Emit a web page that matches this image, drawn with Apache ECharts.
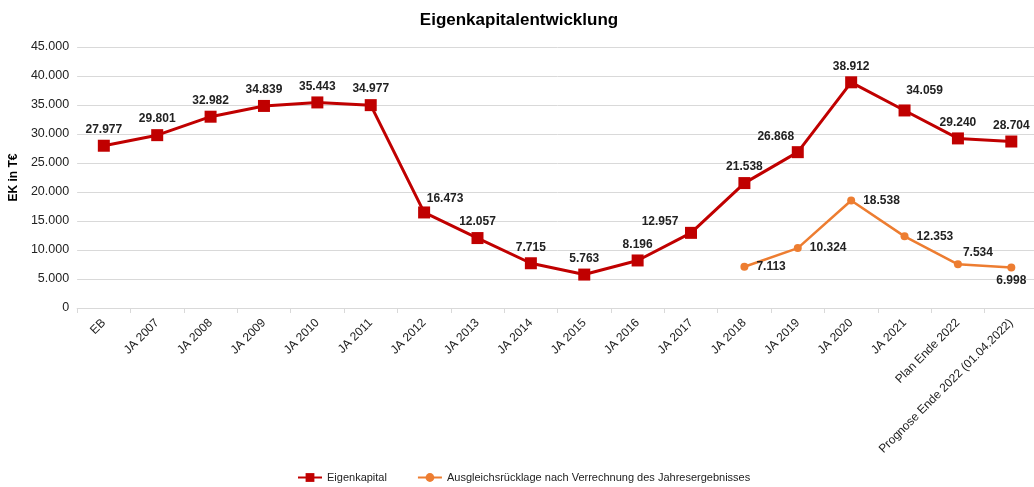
<!DOCTYPE html>
<html>
<head>
<meta charset="UTF-8">
<script src="https://cdn.jsdelivr.net/npm/echarts@6/dist/echarts.min.js"></script>
<style>
  html, body { margin: 0; padding: 0; background: #fff; overflow: hidden; }
  #chart { width: 1038px; height: 487px; }
</style>
</head>
<body>
<div id="chart"></div>
<script>
// Kategorien der x-Achse
var categories = ['EB', 'JA 2007', 'JA 2008', 'JA 2009', 'JA 2010', 'JA 2011', 'JA 2012', 'JA 2013',
    'JA 2014', 'JA 2015', 'JA 2016', 'JA 2017', 'JA 2018', 'JA 2019', 'JA 2020', 'JA 2021',
    'Plan Ende 2022', 'Prognose Ende 2022 (01.04.2022)'];
// Eigenkapital in T€
var eigenkapital = [27977, 29801, 32982, 34839, 35443, 34977, 16473, 12057, 7715, 5763, 8196,
    12957, 21538, 26868, 38912, 34059, 29240, 28704];
// Ausgleichsrücklage (erst ab JA 2018)
var ruecklage = [null, null, null, null, null, null, null, null, null, null, null, null,
    7113, 10324, 18538, 12353, 7534, 6998];

// deutsches Zahlenformat 12.345
function fmt(v) {
    return String(Math.round(v)).replace(/\B(?=(\d{3})+(?!\d))/g, '.');
}

// Label-Versatz für einzelne Punkte (wie im Original)
var ekOffsets = { 6: [21, 2], 11: [-31, 5], 13: [-22, 1], 15: [20, -4] };
var ekData = eigenkapital.map(function (v, i) {
    var d = { value: v };
    if (ekOffsets[i]) d.label = { offset: ekOffsets[i] };
    return d;
});
var rlData = ruecklage.map(function (v, i) {
    if (v === null) return null;
    var d = { value: v };
    if (i === 16) d.label = { position: 'top', offset: [20, 6] };
    if (i === 17) d.label = { position: 'bottom', offset: [0, -5] };
    return d;
});

var chart = echarts.init(document.getElementById('chart'));
chart.setOption({
    animation: false,
    textStyle: { fontFamily: 'Liberation Sans, Arial, sans-serif' },
    title: {
        text: 'Eigenkapitalentwicklung',
        left: 'center',
        top: 7,
        textStyle: { fontSize: 17, fontWeight: 'bold', color: '#000' }
    },
    grid: { left: 74, right: 0, top: 47, bottom: 179, containLabel: false },
    legend: {
        top: 467,
        left: 292,
        itemGap: 30,
        itemWidth: 24,
        itemHeight: 11,
        textStyle: { fontSize: 11, color: '#222' },
        data: ['Eigenkapital', 'Ausgleichsrücklage nach Verrechnung des Jahresergebnisses']
    },
    xAxis: {
        type: 'category',
        data: categories,
        boundaryGap: true,
        axisLine: { lineStyle: { color: '#d9d9d9', width: 1 } },
        axisTick: { show: true, lineStyle: { color: '#d9d9d9' }, length: 5 },
        axisLabel: { rotate: 45, fontSize: 12, color: '#222', interval: 0, margin: 13 }
    },
    yAxis: {
        type: 'value',
        min: 0,
        max: 45000,
        interval: 5000,
        name: 'EK in T€',
        nameLocation: 'middle',
        nameGap: 53,
        nameTextStyle: { fontSize: 12, fontWeight: 'bold', color: '#000' },
        axisLine: { show: false },
        axisTick: { show: false },
        splitLine: { lineStyle: { color: '#d9d9d9', width: 1 } },
        axisLabel: { fontSize: 12.5, color: '#222', margin: 8, formatter: fmt }
    },
    series: [{
        name: 'Eigenkapital',
        type: 'line',
        data: ekData,
        symbol: 'rect',
        symbolSize: 12,
        lineStyle: { color: '#c00000', width: 3 },
        itemStyle: { color: '#c00000' },
        label: {
            show: true,
            position: 'top',
            distance: 4,
            fontSize: 12,
            fontWeight: 'bold',
            color: '#222',
            formatter: function (p) { return fmt(p.value); }
        },
        z: 3
    }, {
        name: 'Ausgleichsrücklage nach Verrechnung des Jahresergebnisses',
        type: 'line',
        data: rlData,
        symbol: 'circle',
        symbolSize: 8,
        lineStyle: { color: '#ed7d31', width: 2.5 },
        itemStyle: { color: '#ed7d31' },
        label: {
            show: true,
            position: 'right',
            distance: 8,
            fontSize: 12,
            fontWeight: 'bold',
            color: '#222',
            formatter: function (p) { return fmt(p.value); }
        },
        z: 2
    }]
});
</script>
</body>
</html>
